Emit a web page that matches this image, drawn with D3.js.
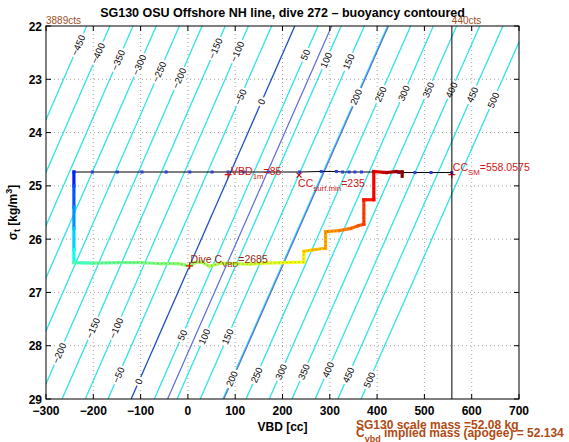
<!DOCTYPE html>
<html><head><meta charset="utf-8">
<script src="https://cdn.jsdelivr.net/npm/d3@7"></script>
<style>
body{margin:0;background:#fff}
text{font-family:"Liberation Sans",Arial,Helvetica,sans-serif}
</style>
</head><body>
<svg id="c" width="569" height="442"></svg>
<script>
// ---------- data ----------
const xTicks = [-300,-200,-100,0,100,200,300,400,500,600,700];
const yTicks = [22,23,24,25,26,27,28,29];
const contourLevels = [-450,-400,-350,-300,-250,-200,-150,-100,-50,0,50,100,150,200,250,300,350,400,450,500];
// VBD where each buoyancy contour crosses sigma=22 (top) and sigma=29 (bottom)
const contourVBDTop = [-214,-165,-116,-67,-18,30,79,128,177,226,275,324,373,422,471,519,568,617,666,715];
const contourVBDBottom = [-557,-509,-460,-412,-363,-314,-266,-217,-169,-120,-71,-23,26,74,123,172,220,269,317,366];
const contourColorKey = ["c","c","c","c","c","c","c","c","c","d","c","c","c","c","c","c","c","c","c","c"];
// extra blue reference lines (unlabelled): VBD at sigma 22 and 29
const refLineTop = [304, 424];
const refLineBottom = [-43, 76];
// contour labels: level and sigma at label centre
const labelLevelsTop = [-450,-400,-350,-300,-250,-200,-150,-100,-50,0,50,100,150,200,250,300,350,400,450,500];
const labelSigmaTop = [22.36,22.51,22.64,22.73,22.86,22.98,22.42,22.48,23.33,23.42,22.54,22.64,22.67,23.33,23.28,23.26,23.2,23.2,23.29,23.39];
const labelLevelsBottom = [-200,-150,-100,-50,0,50,100,150,200,250,300,350,400,450,500];
const labelSigmaBottom = [28.14,27.67,27.67,28.55,28.67,27.8,27.83,27.83,28.62,28.55,28.49,28.49,28.45,28.55,28.64];

// surface line (black with blue dots)
const surfVBD = [-241,-202,-149,-97,-46,4,51,85,118,170,236,282,314,327,341,353,367,393,414,446,480,514,558];
const surfSigma = [24.74,24.74,24.74,24.74,24.74,24.74,24.74,24.74,24.74,24.74,24.74,24.73,24.73,24.74,24.74,24.74,24.74,24.74,24.75,24.75,24.75,24.75,24.75];

// dive trace coloured by time (fraction of dive)
const traceVBD = [-241,-241,-241,-241,-241,-241,-200,-150,-100,-60,-20,3,15,30,45,70,100,130,160,200,245,245,265,291,291,320,344,360,372,372,393,393,420,440,453,453];
const traceSigma = [24.74,25.0,25.4,25.8,26.2,26.44,26.45,26.44,26.44,26.46,26.46,26.50,26.44,26.43,26.51,26.45,26.46,26.47,26.45,26.44,26.43,26.23,26.20,26.17,25.86,25.84,25.80,25.75,25.72,25.26,25.26,24.73,24.75,24.73,24.74,24.82];
const traceT = [0.13,0.18,0.24,0.30,0.36,0.42,0.47,0.48,0.49,0.50,0.51,0.52,0.53,0.535,0.54,0.55,0.56,0.57,0.585,0.60,0.62,0.66,0.68,0.70,0.72,0.74,0.76,0.78,0.80,0.84,0.87,0.90,0.94,0.97,0.99,1.0];

const titleText = "SG130 OSU Offshore NH line, dive 272 \u2013 buoyancy contoured";

// ---------- layout ----------
const svg = d3.select("#c");
const L = 46, R = 519, T = 26, B = 399;
const x = d3.scaleLinear().domain([-300,700]).range([L,R]);
const y = d3.scaleLinear().domain([22,29]).range([T,B]);
const jet = d3.scaleLinear().domain([0,0.125,0.375,0.625,0.875,1])
  .range(["#000080","#0000ff","#00ffff","#ffff00","#ff0000","#800000"]).clamp(true);
const contourColors = {c:"#2fe3e6", d:"#1f4fc4", b:"#5a6bd8"};

svg.append("rect").attr("width",569).attr("height",442).attr("fill","#fff");
svg.append("defs").append("clipPath").attr("id","clip")
  .append("rect").attr("x",L).attr("y",T).attr("width",R-L).attr("height",B-T);

// grid
const grid = svg.append("g");
grid.selectAll("line.gx").data(xTicks.slice(1,-1)).join("line")
  .attr("x1",d=>x(d)).attr("x2",d=>x(d)).attr("y1",T).attr("y2",B)
  .attr("stroke","#8a8a8a").attr("stroke-width",0.8).attr("stroke-dasharray","1,3");
grid.selectAll("line.gy").data(yTicks.slice(1,-1)).join("line")
  .attr("y1",d=>y(d)).attr("y2",d=>y(d)).attr("x1",L).attr("x2",R)
  .attr("stroke","#8a8a8a").attr("stroke-width",0.8).attr("stroke-dasharray","1,3");

const plot = svg.append("g").attr("clip-path","url(#clip)");

// contour lines
const lineAt = (i, s) => contourVBDBottom[i] + (contourVBDTop[i]-contourVBDBottom[i])*(29-s)/7;
plot.selectAll("line.ct").data(contourLevels).join("line")
  .attr("x1",(d,i)=>x(contourVBDTop[i])).attr("y1",y(22))
  .attr("x2",(d,i)=>x(contourVBDBottom[i])).attr("y2",y(29))
  .attr("stroke",(d,i)=>contourColors[contourColorKey[i]]).attr("stroke-width",1.3);
plot.selectAll("line.rl").data(refLineTop).join("line")
  .attr("x1",d=>x(d)).attr("y1",y(22))
  .attr("x2",(d,i)=>x(refLineBottom[i])).attr("y2",y(29))
  .attr("stroke",contourColors.b).attr("stroke-width",1.2);

// contour labels
const labels = [];
labelLevelsTop.forEach((lv,k)=>labels.push({lv, s:labelSigmaTop[k]}));
labelLevelsBottom.forEach((lv,k)=>labels.push({lv, s:labelSigmaBottom[k]}));
const lg = plot.append("g");
labels.forEach(d=>{
  const i = contourLevels.indexOf(d.lv);
  const px = x(lineAt(i,d.s)), py = y(d.s);
  const dx = x(contourVBDTop[i]) - x(contourVBDBottom[i]);
  const dy = y(22) - y(29);
  const ang = Math.atan2(dy, dx)*180/Math.PI;
  const g = lg.append("g").attr("transform",`translate(${px},${py}) rotate(${ang})`);
  const txt = d.lv < 0 ? "\u2212"+Math.abs(d.lv) : String(d.lv);
  const t = g.append("text").attr("text-anchor","middle").attr("dy","0.35em")
    .attr("font-size",9.5).attr("fill","#000").text(txt);
  const w = t.node().getComputedTextLength();
  g.insert("rect","text").attr("x",-w/2-2).attr("y",-4.5).attr("width",w+4).attr("height",9).attr("fill","#fff");
});

// surface line
const surfLine = d3.line().x((d,i)=>x(surfVBD[i])).y((d,i)=>y(surfSigma[i]));
plot.append("path").attr("d",surfLine(surfVBD)).attr("fill","none").attr("stroke","#000").attr("stroke-width",1);
plot.selectAll("rect.sd").data(surfVBD).join("rect")
  .attr("x",(d,i)=>x(d)-1.5).attr("y",(d,i)=>y(surfSigma[i])-1.5).attr("width",3).attr("height",3)
  .attr("fill","#2a3fe0");

// dive trace
const tg = plot.append("g");
for (let i=0;i<traceVBD.length-1;i++){
  tg.append("line")
    .attr("x1",x(traceVBD[i])).attr("y1",y(traceSigma[i]))
    .attr("x2",x(traceVBD[i+1])).attr("y2",y(traceSigma[i+1]))
    .attr("stroke",jet((traceT[i]+traceT[i+1])/2)).attr("stroke-width",3.2)
    .attr("stroke-linecap","square");
}
const trLine = d3.line().x((d,i)=>x(traceVBD[i+6])).y((d,i)=>y(traceSigma[i+6]));
tg.append("path").attr("d",trLine(traceVBD.slice(6,30))).attr("fill","none")
  .attr("stroke","#3a3a10").attr("stroke-opacity",0.45).attr("stroke-width",1).attr("stroke-dasharray","1,3");

// markers and annotations
const red = "#d01515";
function plus(vx, s, col){
  const cx = x(vx), cy = y(s);
  svg.append("path").attr("d",`M${cx-3.5},${cy}H${cx+3.5}M${cx},${cy-3.5}V${cy+3.5}`).attr("stroke",col).attr("stroke-width",1.2);
}
function cross(vx, s, col){
  const cx = x(vx), cy = y(s);
  svg.append("path").attr("d",`M${cx-2.5},${cy-2.5}L${cx+2.5},${cy+2.5}M${cx-2.5},${cy+2.5}L${cx+2.5},${cy-2.5}`).attr("stroke",col).attr("stroke-width",1.2);
}
function subText(px, py, main, sub, rest, col, fs){
  const t = svg.append("text").attr("x",px).attr("y",py).attr("font-size",fs).attr("fill",col);
  t.append("tspan").text(main);
  t.append("tspan").attr("dy",fs*0.4).attr("font-size",fs*0.75).text(sub);
  t.append("tspan").attr("dy",-fs*0.4).text(rest);
  return t;
}
plus(85, 24.79, red);
subText(x(85)+3, y(24.79)+0.5, "VBD", "1m", "=85", red, 10.5);
cross(235, 24.80, "#b01010");
subText(x(235)-1, y(24.80)+12, "CC", "surf.min", "=235", red, 10.5);
plus(558, 24.79, red);
subText(x(558)+1, y(24.79)-4, "CC", "SM", "=558.0575", red, 10.5);
plus(3.6, 26.5, "#d01010");
subText(x(3.6)+1, y(26.5)-3, "Dive C", "VBD", "=2685", "#9b2a10", 10.5);

// vertical line at CC_SM
svg.append("line").attr("x1",x(558.0575)).attr("x2",x(558.0575)).attr("y1",T).attr("y2",B).attr("stroke","#000").attr("stroke-width",1);

// axes box & ticks
const ax = svg.append("g");
ax.append("rect").attr("x",L).attr("y",T).attr("width",R-L).attr("height",B-T).attr("fill","none").attr("stroke","#000").attr("stroke-width",1);
const tl = 5;
xTicks.forEach(v=>{
  ax.append("line").attr("x1",x(v)).attr("x2",x(v)).attr("y1",B).attr("y2",B-tl).attr("stroke","#000");
  ax.append("line").attr("x1",x(v)).attr("x2",x(v)).attr("y1",T).attr("y2",T+tl).attr("stroke","#000");
});
yTicks.forEach(v=>{
  ax.append("line").attr("y1",y(v)).attr("y2",y(v)).attr("x1",L).attr("x2",L+tl).attr("stroke","#000");
  ax.append("line").attr("y1",y(v)).attr("y2",y(v)).attr("x1",R).attr("x2",R-tl).attr("stroke","#000");
});
const fmt = v => v<0 ? "\u2212"+Math.abs(v) : String(v);
ax.selectAll("text.xt").data(xTicks).join("text")
  .attr("x",d=>x(d)).attr("y",B+16).attr("text-anchor","middle")
  .attr("font-size",12).attr("font-weight","bold").text(fmt);
ax.selectAll("text.yt").data(yTicks).join("text")
  .attr("x",L-4).attr("y",d=>y(d)+4.5).attr("text-anchor","end")
  .attr("font-size",12).attr("font-weight","bold").text(d=>d);

// titles & labels
svg.append("text").attr("x",(L+R)/2).attr("y",17).attr("text-anchor","middle")
  .attr("font-size",12.5).attr("font-weight","bold").text(titleText);
svg.append("text").attr("x",(L+R)/2).attr("y",431).attr("text-anchor","middle")
  .attr("font-size",12).attr("font-weight","bold").text("VBD [cc]");
const yl = svg.append("text").attr("transform",`translate(17,${(T+B)/2}) rotate(-90)`)
  .attr("text-anchor","middle").attr("font-size",12).attr("font-weight","bold");
yl.append("tspan").text("\u03c3");
yl.append("tspan").attr("dy",3).attr("font-size",9).text("t");
yl.append("tspan").attr("dy",-3).text(" [kg/m");
yl.append("tspan").attr("dy",-5).attr("font-size",9).text("3");
yl.append("tspan").attr("dy",5).text("]");

const brown = "#a0501e";
svg.append("text").attr("x",L).attr("y",24).attr("font-size",10).attr("fill",brown).text("3889cts");
svg.append("text").attr("x",x(558.0575)).attr("y",24).attr("font-size",10).attr("fill",brown).text("440cts");

const bc = "#b04a12";
svg.append("text").attr("x",356).attr("y",429).attr("font-size",12).attr("font-weight","bold").attr("fill",bc)
  .text("SG130 scale mass =52.08 kg");
const ct = svg.append("text").attr("x",356).attr("y",437).attr("font-size",12).attr("font-weight","bold").attr("fill",bc);
ct.append("tspan").text("C");
ct.append("tspan").attr("dy",5).attr("font-size",9).text("vbd");
ct.append("tspan").attr("dy",-5).text(" implied mass (apogee) = 52.134");
</script>
</body></html>
